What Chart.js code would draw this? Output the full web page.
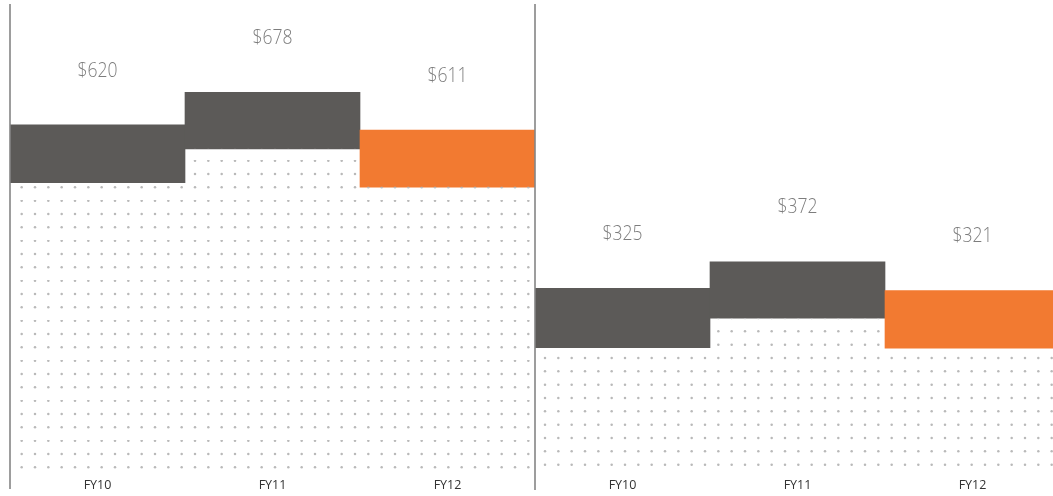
<!DOCTYPE html>
<html>
<head>
<meta charset="utf-8">
<script src="https://cdn.jsdelivr.net/npm/chart.js@4.4.1/dist/chart.umd.min.js"></script>
<style>
  html, body { margin: 0; padding: 0; background: #ffffff; overflow: hidden; width: 1053px; height: 496px; }
  #wrap { position: relative; width: 1053px; height: 496px; overflow: hidden; }
  canvas { position: absolute; top: 0; }
  #c1 { left: 0px; }
  #c2 { left: 530px; }
</style>
</head>
<body>
<div id="wrap">
  <canvas id="c1" width="540" height="496"></canvas>
  <canvas id="c2" width="545" height="496"></canvas>
</div>
<script>
// ---- data ----
var categories = ['FY10', 'FY11', 'FY12'];
var leftValues = [620, 678, 611];
var leftBases = [517, 577, 509];
var rightValues = [325, 372, 321];
var rightBases = [220, 272, 219];
var bandColors = ['#5c5a58', '#5c5a58', '#f27a31'];
var leftMax = 836;
var rightMax = 828;

function makePattern(ox, oy) {
  var c = document.createElement('canvas');
  c.width = 40; c.height = 40;
  var g = c.getContext('2d');
  g.fillStyle = '#b9b9b9';
  for (var i = 0; i < 3; i++) {
    for (var j = 0; j < 3; j++) {
      g.beginPath();
      g.arc(ox + i * 40 / 3, oy + j * 40 / 3, 1.25, 0, Math.PI * 2);
      g.fill();
    }
  }
  return g.createPattern(c, 'repeat');
}

function makeChart(id, values, bases, max, pad, pattern, lineExtra) {
  var overlay = {
    id: 'overlay' + id,
    afterDatasetsDraw: function (chart) {
      var ctx = chart.ctx;
      var xs = chart.scales.x, ys = chart.scales.y;
      var area = chart.chartArea;
      ctx.save();
      ctx.font = '300 20px "Open Sans"';
      ctx.fillStyle = '#7d7d7d';
      ctx.textAlign = 'center';
      ctx.textBaseline = 'middle';
      values.forEach(function (v, i) {
        var px = xs.getPixelForValue(i);
        var py = ys.getPixelForValue(v) - 54;
        ctx.fillText('$' + v, px, py, 40);
      });
      ctx.strokeStyle = '#858585';
      ctx.lineWidth = 1.6;
      ctx.beginPath();
      ctx.moveTo(area.left, area.top);
      ctx.lineTo(area.left, area.bottom + lineExtra);
      ctx.stroke();
      ctx.restore();
    }
  };
  return new Chart(document.getElementById(id), {
    type: 'bar',
    data: {
      labels: categories,
      datasets: [
        {
          label: 'base',
          data: bases.map(function (b) { return [0, b]; }),
          backgroundColor: pattern,
          borderWidth: 0,
          barPercentage: 1,
          categoryPercentage: 1
        },
        {
          label: 'value',
          data: bases.map(function (b, i) { return [b, values[i]]; }),
          backgroundColor: bandColors,
          borderWidth: 0,
          barPercentage: 1,
          categoryPercentage: 1
        }
      ]
    },
    options: {
      responsive: false,
      animation: false,
      layout: { padding: pad },
      plugins: { legend: { display: false }, tooltip: { enabled: false } },
      scales: {
        x: {
          stacked: true,
          grid: { display: false },
          border: { display: false },
          ticks: { color: '#333333', font: { family: '"Open Sans"', size: 12.5 }, padding: -2 },
          afterFit: function (axis) { axis.height = 24; }
        },
        y: { display: false, stacked: false, min: 0, max: max }
      }
    },
    plugins: [overlay]
  });
}

makeChart('c1', leftValues, leftBases, leftMax, { left: 10, right: 5, top: 4, bottom: 0 }, makePattern(8.33, 0.67), 17);
makeChart('c2', rightValues, rightBases, rightMax, { left: 5, right: 15, top: 4, bottom: 0 }, makePattern(1.67, 11.33), 18);
</script>
</body>
</html>
